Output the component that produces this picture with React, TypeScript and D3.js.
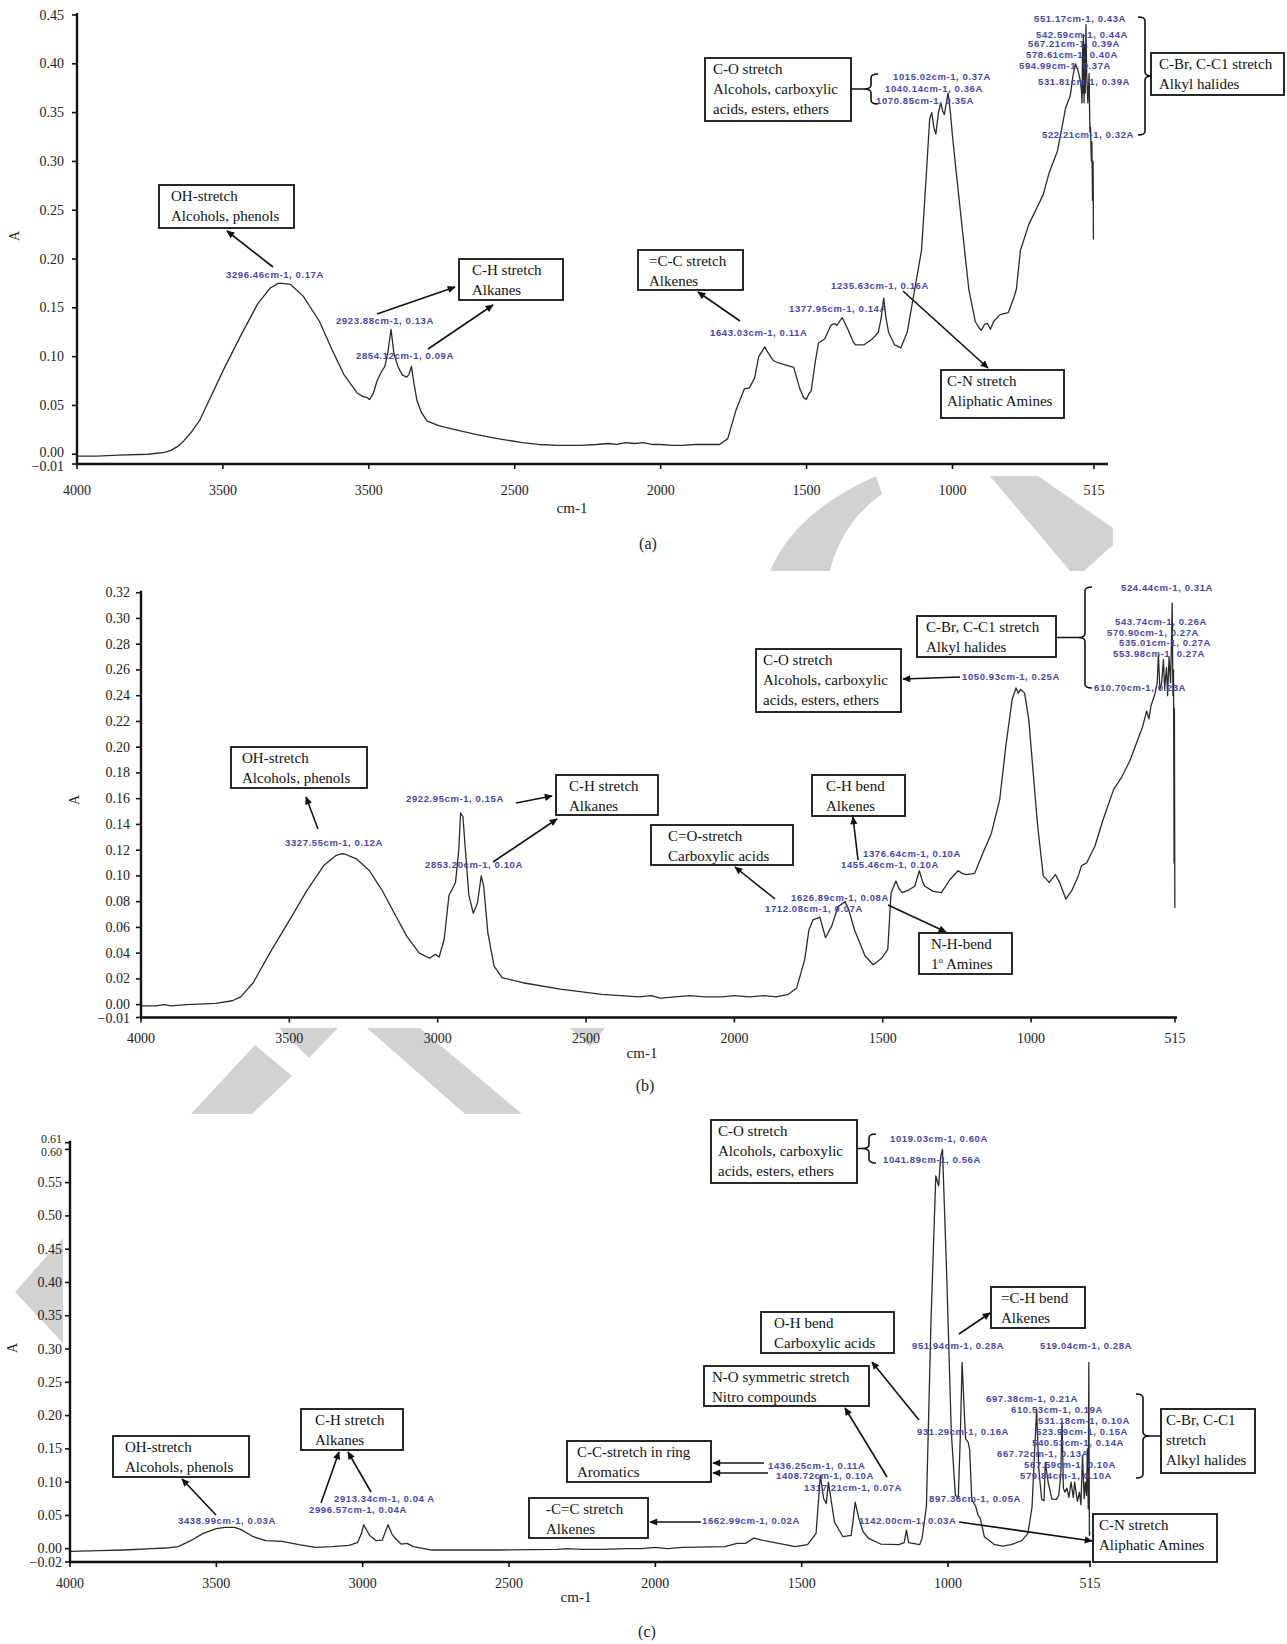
import React from "react";
import * as d3 from "d3";

const FIG_W = 1287;
const FIG_H = 1644;

// ---------- axis ticks ----------
const wavenumberTicks = [4000, 3500, 3000, 2500, 2000, 1500, 1000, 515];
const tickTextA = ["4000", "3500", "3500", "2500", "2000", "1500", "1000", "515"];
const tickTextBC = ["4000", "3500", "3000", "2500", "2000", "1500", "1000", "515"];

const absTicksA = [-0.01, 0, 0.05, 0.1, 0.15, 0.2, 0.25, 0.3, 0.35, 0.4, 0.45];
const absTicksB = [-0.01, 0, 0.02, 0.04, 0.06, 0.08, 0.1, 0.12, 0.14, 0.16, 0.18, 0.2, 0.22, 0.24, 0.26, 0.28, 0.3, 0.32];
const absTicksC = [-0.02, 0, 0.05, 0.1, 0.15, 0.2, 0.25, 0.3, 0.35, 0.4, 0.45, 0.5, 0.55, 0.6, 0.61];

// ---------- spectra: [wavenumber cm-1, absorbance A] ----------
const spectrumA: [number, number][] = [
  [4000, -0.002], [3930, -0.002], [3860, -0.001], [3757, 0.0], [3700, 0.002], [3678, 0.004], [3655, 0.008],
  [3636, 0.013], [3610, 0.022], [3579, 0.035], [3540, 0.06], [3494, 0.089], [3438, 0.122], [3381, 0.154],
  [3339, 0.17], [3310, 0.175], [3296.46, 0.175], [3268, 0.174], [3225, 0.162], [3169, 0.136], [3126, 0.107],
  [3084, 0.081], [3041, 0.063], [3020, 0.059], [3005, 0.058], [2998, 0.056], [2985, 0.062], [2972, 0.075],
  [2958, 0.084], [2945, 0.09], [2935, 0.104], [2923.88, 0.128], [2914, 0.103], [2899, 0.089], [2885, 0.081],
  [2870, 0.079], [2862, 0.082], [2854.12, 0.09], [2845, 0.072], [2835, 0.055], [2820, 0.043], [2800, 0.034],
  [2758, 0.029], [2701, 0.025], [2630, 0.02], [2559, 0.016], [2474, 0.012], [2418, 0.01], [2350, 0.009],
  [2276, 0.009], [2220, 0.01], [2180, 0.011], [2150, 0.01], [2120, 0.012], [2090, 0.011], [2060, 0.012],
  [2030, 0.01], [2000, 0.01], [1960, 0.009], [1925, 0.009], [1880, 0.01], [1798, 0.01], [1770, 0.016],
  [1742, 0.045], [1713, 0.067], [1696, 0.068], [1678, 0.078], [1664, 0.1], [1643.03, 0.11], [1636, 0.106],
  [1614, 0.096], [1600, 0.094], [1579, 0.092], [1544, 0.089], [1523, 0.067], [1510, 0.058], [1501, 0.056],
  [1492, 0.062], [1484, 0.065], [1470, 0.095], [1459, 0.114], [1438, 0.118], [1417, 0.132], [1405, 0.134],
  [1396, 0.132], [1377.95, 0.14], [1360, 0.129], [1340, 0.115], [1332, 0.112], [1304, 0.112], [1275, 0.118],
  [1254, 0.125], [1244, 0.14], [1235.63, 0.16], [1228, 0.14], [1219, 0.125], [1198, 0.112], [1177, 0.109],
  [1155, 0.125], [1127, 0.173], [1106, 0.209], [1092, 0.275], [1078, 0.344], [1070.85, 0.35], [1064, 0.335],
  [1057, 0.328], [1048, 0.35], [1040.14, 0.36], [1034, 0.352], [1028, 0.348], [1015.02, 0.37], [1007, 0.35],
  [1000, 0.326], [986, 0.286], [965, 0.227], [944, 0.169], [922, 0.136], [905, 0.128], [901, 0.127],
  [890, 0.133], [880, 0.134], [870, 0.128], [859, 0.136], [837, 0.143], [809, 0.145], [790, 0.16],
  [781, 0.169], [767, 0.209], [739, 0.235], [710, 0.253], [689, 0.266], [668, 0.289], [640, 0.311],
  [626, 0.333], [612, 0.355], [598, 0.366], [594.99, 0.37], [587, 0.388], [578.61, 0.4], [572, 0.395],
  [567.21, 0.39], [563, 0.384], [558, 0.373], [556, 0.36], [554, 0.42], [552.5, 0.37], [551.17, 0.43],
  [549, 0.36], [547, 0.42], [545, 0.37], [542.59, 0.44], [540, 0.39], [536, 0.36], [531.81, 0.39],
  [529, 0.33], [527, 0.335], [524, 0.3], [522.21, 0.32], [520, 0.26], [518, 0.3], [517, 0.22],
];

const spectrumB: [number, number][] = [
  [4000, -0.001], [3950, -0.001], [3920, 0.0], [3900, -0.001], [3846, 0.0], [3748, 0.001], [3692, 0.003],
  [3664, 0.006], [3622, 0.017], [3566, 0.04], [3496, 0.067], [3440, 0.089], [3384, 0.108], [3342, 0.116],
  [3327.55, 0.117], [3314, 0.117], [3272, 0.113], [3230, 0.104], [3188, 0.089], [3146, 0.071], [3104, 0.053],
  [3062, 0.04], [3027, 0.036], [3009, 0.039], [2995, 0.037], [2978, 0.051], [2962, 0.085], [2950, 0.09],
  [2940, 0.095], [2929, 0.12], [2922.95, 0.149], [2915, 0.146], [2905, 0.115], [2895, 0.085], [2880, 0.071],
  [2866, 0.079], [2853.2, 0.1], [2845, 0.092], [2831, 0.056], [2810, 0.03], [2783, 0.021], [2713, 0.017],
  [2587, 0.012], [2447, 0.008], [2321, 0.006], [2280, 0.007], [2250, 0.005], [2200, 0.006], [2150, 0.007],
  [2100, 0.006], [2042, 0.006], [2000, 0.007], [1950, 0.006], [1900, 0.007], [1860, 0.006], [1818, 0.008],
  [1790, 0.013], [1763, 0.035], [1749, 0.058], [1735, 0.066], [1721, 0.067], [1712.08, 0.068], [1700, 0.058],
  [1693, 0.052], [1672, 0.061], [1651, 0.076], [1626.89, 0.08], [1615, 0.074], [1595, 0.058], [1560, 0.038],
  [1532, 0.031], [1504, 0.036], [1483, 0.043], [1472, 0.087], [1455.46, 0.096], [1445, 0.09], [1434, 0.087],
  [1413, 0.089], [1392, 0.092], [1376.64, 0.104], [1365, 0.095], [1358, 0.092], [1330, 0.088], [1302, 0.087],
  [1274, 0.097], [1246, 0.104], [1232, 0.102], [1218, 0.101], [1190, 0.102], [1162, 0.118], [1134, 0.133],
  [1106, 0.159], [1085, 0.201], [1064, 0.237], [1050.93, 0.246], [1043, 0.242], [1036, 0.245], [1022, 0.242],
  [1008, 0.222], [994, 0.183], [978, 0.139], [959, 0.1], [939, 0.095], [918, 0.101], [904, 0.095],
  [883, 0.082], [862, 0.089], [841, 0.1], [830, 0.108], [813, 0.11], [785, 0.123], [757, 0.144],
  [722, 0.167], [694, 0.177], [666, 0.19], [645, 0.203], [624, 0.216], [610.7, 0.228], [603, 0.222],
  [596, 0.232], [582, 0.242], [575, 0.25], [570.9, 0.272], [566, 0.245], [560, 0.25], [553.98, 0.268],
  [550, 0.245], [543.74, 0.262], [540, 0.24], [535.01, 0.27], [530, 0.25], [527, 0.28], [524.44, 0.312],
  [522, 0.24], [520, 0.26], [518, 0.11], [517, 0.23], [515.5, 0.075],
];

const spectrumC: [number, number][] = [
  [4000, -0.004], [3900, -0.003], [3815, -0.002], [3720, 0.0], [3673, 0.001], [3630, 0.003], [3588, 0.012],
  [3545, 0.023], [3500, 0.03], [3470, 0.032], [3438.99, 0.032], [3417, 0.029], [3374, 0.018], [3331, 0.012],
  [3275, 0.011], [3218, 0.006], [3161, 0.002], [3104, 0.003], [3047, 0.005], [3018, 0.009], [3004, 0.023],
  [2996.57, 0.036], [2985, 0.027], [2976, 0.02], [2954, 0.012], [2933, 0.013], [2922, 0.026], [2913.34, 0.036],
  [2900, 0.022], [2890, 0.016], [2869, 0.007], [2848, 0.008], [2827, 0.003], [2763, -0.002], [2535, -0.002],
  [2336, -0.001], [2300, 0.0], [2250, -0.001], [2180, -0.001], [2100, 0.0], [2047, 0.0], [2000, 0.002],
  [1960, 0.0], [1905, 0.002], [1763, 0.003], [1721, 0.008], [1692, 0.008], [1662.99, 0.016], [1636, 0.013],
  [1579, 0.008], [1522, 0.003], [1480, 0.006], [1451, 0.023], [1436.25, 0.11], [1425, 0.075], [1416, 0.068],
  [1408.72, 0.1], [1395, 0.06], [1388, 0.04], [1359, 0.018], [1331, 0.02], [1325, 0.04], [1317.21, 0.07],
  [1305, 0.046], [1290, 0.025], [1270, 0.015], [1230, 0.007], [1168, 0.006], [1150, 0.009], [1142, 0.028],
  [1135, 0.009], [1097, 0.006], [1089, 0.015], [1074, 0.063], [1058, 0.346], [1041.89, 0.56], [1032, 0.545],
  [1025, 0.59], [1019.03, 0.6], [1004, 0.403], [989, 0.176], [975, 0.08], [965, 0.077], [958, 0.17],
  [951.94, 0.28], [944, 0.2], [940, 0.165], [931.29, 0.16], [926, 0.148], [919, 0.074], [905, 0.063],
  [897.36, 0.05], [890, 0.046], [876, 0.018], [841, 0.006], [813, 0.004], [784, 0.006], [748, 0.012],
  [727, 0.023], [713, 0.063], [697.38, 0.21], [690, 0.12], [680, 0.074], [672, 0.072], [667.72, 0.13],
  [658, 0.1], [645, 0.074], [630, 0.074], [622, 0.08], [615, 0.11], [610.53, 0.19], [606, 0.091],
  [601, 0.085], [594, 0.091], [587, 0.077], [579.84, 0.1], [572, 0.077], [567.59, 0.1], [558, 0.071],
  [551, 0.085], [546, 0.066], [540.53, 0.14], [535, 0.075], [531.18, 0.1], [527, 0.08], [523.99, 0.15],
  [521, 0.06], [519.04, 0.28], [517, 0.02], [515.5, 0.025],
];

// ---------- peak readouts ----------
const peakTextA = [
  "3296.46cm-1, 0.17A", "2923.88cm-1, 0.13A", "2854.12cm-1, 0.09A", "1643.03cm-1, 0.11A",
  "1377.95cm-1, 0.14A", "1235.63cm-1, 0.16A", "1015.02cm-1, 0.37A", "1040.14cm-1, 0.36A",
  "1070.85cm-1, 0.35A", "551.17cm-1, 0.43A", "542.59cm-1, 0.44A", "567.21cm-1, 0.39A",
  "578.61cm-1, 0.40A", "594.99cm-1, 0.37A", "531.81cm-1, 0.39A", "522.21cm-1, 0.32A",
];
const peakTextB = [
  "3327.55cm-1, 0.12A", "2922.95cm-1, 0.15A", "2853.20cm-1, 0.10A", "1712.08cm-1, 0.07A",
  "1626.89cm-1, 0.08A", "1455.46cm-1, 0.10A", "1376.64cm-1, 0.10A", "1050.93cm-1, 0.25A",
  "524.44cm-1, 0.31A", "543.74cm-1, 0.26A", "570.90cm-1, 0.27A", "535.01cm-1, 0.27A",
  "553.98cm-1, 0.27A", "610.70cm-1, 0.23A",
];
const peakTextC = [
  "3438.99cm-1, 0.03A", "2913.34cm-1, 0.04 A", "2996.57cm-1, 0.04A", "1662.99cm-1, 0.02A",
  "1436.25cm-1, 0.11A", "1408.72cm-1, 0.10A", "1317.21cm-1, 0.07A", "1142.00cm-1, 0.03A",
  "1019.03cm-1, 0.60A", "1041.89cm-1, 0.56A", "951.94cm-1, 0.28A", "519.04cm-1, 0.28A",
  "931.29cm-1, 0.16A", "897.36cm-1, 0.05A", "697.38cm-1, 0.21A", "610.53cm-1, 0.19A",
  "531.18cm-1, 0.10A", "523.99cm-1, 0.15A", "540.53cm-1, 0.14A", "667.72cm-1, 0.13A",
  "567.59cm-1, 0.10A", "579.84cm-1, 0.10A",
];

// ---------- layout (pixels) ----------
type Frame = {
  left: number; right: number; top: number; bottom: number; axisRight: number;
  yMin: number; yMax: number; labelGap: number; tickBaseline: number;
  nudge: Record<string, number>; small: string[];
};
const frameA: Frame = {
  left: 77, right: 1094, top: 15, bottom: 464, axisRight: 1108, yMin: -0.01, yMax: 0.45,
  labelGap: 13, tickBaseline: 495, nudge: { "-0.01": 2.5, "0": -1.5 }, small: [],
};
const frameB: Frame = {
  left: 141, right: 1175, top: 592.7, bottom: 1017.5, axisRight: 1177, yMin: -0.01, yMax: 0.32,
  labelGap: 11, tickBaseline: 1043, nudge: { "-0.01": 1, "0": -0.5 }, small: [],
};
const frameC: Frame = {
  left: 70, right: 1090, top: 1142.7, bottom: 1562, axisRight: 1091, yMin: -0.02, yMax: 0.61,
  labelGap: 8, tickBaseline: 1588, nudge: { "0.61": -3.5, "0.6": 2.5 }, small: ["0.61", "0.6"],
};

const peakPosA: [number, number][] = [
  [226, 278], [336, 324], [356, 359], [710, 336], [789, 312], [831, 289], [893, 80], [885, 92], [876, 104],
  [1034, 22], [1036, 38], [1028, 47], [1026, 58], [1019, 69], [1038, 85], [1042, 138],
];
const peakPosB: [number, number][] = [
  [285, 846], [406, 802], [425, 868], [765, 912], [791, 901], [841, 868], [863, 857], [962, 680],
  [1121, 591], [1115, 625], [1107, 636], [1119, 646], [1113, 657], [1094, 691],
];
const peakPosC: [number, number][] = [
  [178, 1524], [334, 1502], [309, 1513], [702, 1524], [768, 1469], [776, 1479], [804, 1491], [859, 1524],
  [890, 1142], [883, 1163], [912, 1349], [1040, 1349], [917, 1435], [929, 1502], [986, 1402], [1011, 1413],
  [1038, 1424], [1036, 1435], [1032, 1446], [997, 1457], [1024, 1468], [1020, 1479],
];

type Box = { x: number; y: number; w: number; h: number; px: number; lines: string[] };
const boxesA: Box[] = [
  { x: 159, y: 185, w: 135, h: 43, px: 12, lines: ["OH-stretch", "Alcohols, phenols"] },
  { x: 459, y: 259, w: 104, h: 41, px: 13, lines: ["C-H stretch", "Alkanes"] },
  { x: 638, y: 250, w: 105, h: 40, px: 11, lines: ["=C-C stretch", "Alkenes"] },
  { x: 705, y: 58, w: 146, h: 63, px: 8, lines: ["C-O stretch", "Alcohols, carboxylic", "acids, esters, ethers"] },
  { x: 941, y: 370, w: 123, h: 48, px: 6, lines: ["C-N stretch", "Aliphatic Amines"] },
  { x: 1151, y: 53, w: 133, h: 42, px: 8, lines: ["C-Br, C-C1 stretch", "Alkyl halides"] },
];
const boxesB: Box[] = [
  { x: 231, y: 747, w: 136, h: 41, px: 11, lines: ["OH-stretch", "Alcohols, phenols"] },
  { x: 556, y: 775, w: 102, h: 40, px: 13, lines: ["C-H stretch", "Alkanes"] },
  { x: 651, y: 825, w: 142, h: 40, px: 17, lines: ["C=O-stretch", "Carboxylic acids"] },
  { x: 812, y: 775, w: 93, h: 41, px: 14, lines: ["C-H bend", "Alkenes"] },
  { x: 919, y: 933, w: 93, h: 41, px: 12, lines: ["N-H-bend", "1\u00ba Amines"] },
  { x: 756, y: 649, w: 145, h: 63, px: 7, lines: ["C-O stretch", "Alcohols, carboxylic", "acids, esters, ethers"] },
  { x: 917, y: 616, w: 139, h: 41, px: 9, lines: ["C-Br, C-C1 stretch", "Alkyl halides"] },
];
const boxesC: Box[] = [
  { x: 113, y: 1436, w: 136, h: 41, px: 12, lines: ["OH-stretch", "Alcohols, phenols"] },
  { x: 301, y: 1409, w: 102, h: 41, px: 14, lines: ["C-H stretch", "Alkanes"] },
  { x: 529, y: 1498, w: 119, h: 40, px: 17, lines: ["-C=C stretch", "Alkenes"] },
  { x: 567, y: 1441, w: 144, h: 41, px: 10, lines: ["C-C-stretch in ring", "Aromatics"] },
  { x: 704, y: 1366, w: 165, h: 40, px: 8, lines: ["N-O symmetric stretch", "Nitro compounds"] },
  { x: 761, y: 1312, w: 133, h: 41, px: 13, lines: ["O-H bend", "Carboxylic acids"] },
  { x: 711, y: 1120, w: 146, h: 63, px: 7, lines: ["C-O stretch", "Alcohols, carboxylic", "acids, esters, ethers"] },
  { x: 991, y: 1287, w: 94, h: 41, px: 10, lines: ["=C-H bend", "Alkenes"] },
  { x: 1093, y: 1514, w: 124, h: 48, px: 6, lines: ["C-N stretch", "Aliphatic Amines"] },
  { x: 1161, y: 1409, w: 94, h: 64, px: 5, lines: ["C-Br, C-C1", "stretch", "Alkyl halides"] },
];

// arrows: [x1, y1, x2, y2], head at the second point
const arrowsA: number[][] = [
  [273, 267, 227, 231], [377, 314, 455, 287], [428, 349, 493, 305], [740, 321, 698, 292], [903, 291, 988, 368],
];
const arrowsB: number[][] = [
  [318, 829, 306, 797], [516, 803, 552, 796], [493, 862, 557, 819], [775, 899, 735, 867],
  [858, 860, 853, 817], [888, 905, 946, 932], [960, 677, 903, 679],
];
const arrowsC: number[][] = [
  [216, 1515, 182, 1479], [321, 1503, 339, 1452], [371, 1492, 348, 1452], [701, 1522, 650, 1522],
  [764, 1463, 713, 1463], [768, 1473, 713, 1473], [887, 1477, 845, 1408], [919, 1420, 872, 1362],
  [959, 1334, 990, 1313], [959, 1522, 1092, 1541],
];

// braces: spine x, top y, bottom y, serif direction (+1 right / -1 left), connector end x
type Brace = { x: number; y1: number; y2: number; dir: number; to: number };
const bracesA: Brace[] = [
  { x: 871, y1: 74, y2: 104, dir: 1, to: 851 },
  { x: 1145, y1: 17, y2: 135, dir: -1, to: 1151 },
];
const bracesB: Brace[] = [{ x: 1085, y1: 587, y2: 688, dir: 1, to: 1056 }];
const bracesC: Brace[] = [
  { x: 869, y1: 1134, y2: 1163, dir: 1, to: 857 },
  { x: 1143, y1: 1394, y2: 1478, dir: -1, to: 1161 },
];

// light grey backdrop shapes printed across the figure
const backdrop: string[] = [
  "M770,571 Q795,512 876,476 L882,494 Q842,522 830,571 Z",
  "M990,476 L1038,476 L1113,528 L1113,545 L1084,571 L1070,571 Z",
  "M279,1028 L338,1028 L309,1058 Z",
  "M255,1045 L292,1076 L252,1114 L191,1114 Z",
  "M367,1028 L420,1028 L522,1114 L465,1114 Z",
  "M570,1028 L605,1028 L590,1047 Z",
  "M15,1292 L63,1238 L63,1343 Z",
];

const SERIF = "'Liberation Serif', 'DejaVu Serif', serif";
const SANS = "'Liberation Sans', Arial, sans-serif";

function fmtAbs(v: number) {
  const s = Math.abs(v).toFixed(2);
  return v < 0 ? "\u2212" + s : s;
}

function bracePath(b: Brace) {
  const s = 7 * b.dir;
  const r = 4;
  const ym = (b.y1 + b.y2) / 2;
  return `M${b.x + s},${b.y1} Q${b.x},${b.y1} ${b.x},${b.y1 + r} L${b.x},${ym - r} Q${b.x},${ym} ${b.x - s},${ym} ` +
    `Q${b.x},${ym} ${b.x},${ym + r} L${b.x},${b.y2 - r} Q${b.x},${b.y2} ${b.x + s},${b.y2} ` +
    `M${b.x - s},${ym} L${b.to},${ym}`;
}

type PanelProps = {
  frame: Frame;
  data: [number, number][];
  yTicks: number[];
  xText: string[];
  peakText: string[];
  peakPos: [number, number][];
  boxes: Box[];
  arrows: number[][];
  braces: Brace[];
  yTitle: [number, number];
  xTitle: [number, number];
  caption: string;
  captionPos: [number, number];
};

function BoxLabel({ b }: { b: Box }) {
  return (
    <g>
      <rect x={b.x} y={b.y} width={b.w} height={b.h} fill="#fff" stroke="#111" strokeWidth={1.8} />
      {b.lines.map((ln, i) => {
        const ty = b.y + 16 + i * 19.8;
        if (ln.startsWith("1\u00ba")) {
          return (
            <text key={i} x={b.x + b.px} y={ty} fontFamily={SERIF} fontSize={15} fill="#111">
              1<tspan fontSize={9} dy={-6}>o</tspan>
              <tspan dy={6}> Amines</tspan>
            </text>
          );
        }
        return (
          <text key={i} x={b.x + b.px} y={ty} fontFamily={SERIF} fontSize={15} fill="#111">
            {ln}
          </text>
        );
      })}
    </g>
  );
}

function Panel(p: PanelProps) {
  const f = p.frame;
  const x = d3.scaleLinear().domain([4000, 515]).range([f.left, f.right]);
  const y = d3.scaleLinear().domain([f.yMin, f.yMax]).range([f.bottom, f.top]);
  const line = d3
    .line<[number, number]>()
    .x((d) => x(d[0]))
    .y((d) => y(d[1]));

  return (
    <g>
      {/* spectrum trace */}
      <path d={line(p.data) || ""} fill="none" stroke="#2b2b2b" strokeWidth={1.3} strokeLinejoin="round" />

      {/* axes */}
      <line x1={f.left} y1={f.top - 2} x2={f.left} y2={f.bottom} stroke="#111" strokeWidth={2.4} />
      <line x1={f.left - 1} y1={f.bottom} x2={f.axisRight} y2={f.bottom} stroke="#111" strokeWidth={2.4} />
      {p.yTicks.map((t) => {
        const key = String(t);
        const dy = f.nudge[key] || 0;
        const small = f.small.includes(key);
        return (
          <g key={"y" + t}>
            <line x1={f.left - 5} x2={f.left} y1={y(t)} y2={y(t)} stroke="#111" strokeWidth={1.6} />
            <text
              x={f.left - f.labelGap}
              y={y(t) + (small ? 4 : 4.5) + dy}
              textAnchor="end"
              fontFamily={SERIF}
              fontSize={small ? 12 : 14}
              fill="#222"
            >
              {fmtAbs(t)}
            </text>
          </g>
        );
      })}
      {wavenumberTicks.map((t, i) => (
        <g key={"x" + t}>
          <line x1={x(t)} x2={x(t)} y1={f.bottom} y2={f.bottom + 5} stroke="#111" strokeWidth={1.6} />
          <text x={x(t)} y={f.tickBaseline} textAnchor="middle" fontFamily={SERIF} fontSize={14} fill="#222">
            {p.xText[i]}
          </text>
        </g>
      ))}
      <text
        transform={`translate(${p.yTitle[0]},${p.yTitle[1]}) rotate(-90)`}
        textAnchor="middle"
        fontFamily={SERIF}
        fontSize={14}
        fill="#222"
      >
        A
      </text>
      <text x={p.xTitle[0]} y={p.xTitle[1]} textAnchor="middle" fontFamily={SERIF} fontSize={15} fill="#222">
        cm-1
      </text>
      <text x={p.captionPos[0]} y={p.captionPos[1]} textAnchor="middle" fontFamily={SERIF} fontSize={16} fill="#222">
        {p.caption}
      </text>

      {/* peak readouts */}
      {p.peakText.map((s, i) => (
        <text
          key={"p" + i}
          x={p.peakPos[i][0]}
          y={p.peakPos[i][1]}
          fontFamily={SANS}
          fontSize={9.5}
          fontWeight="bold"
          letterSpacing={0.6}
          fill="#4646a8"
        >
          {s}
        </text>
      ))}

      {/* braces grouping readouts */}
      {p.braces.map((b, i) => (
        <path key={"b" + i} d={bracePath(b)} fill="none" stroke="#111" strokeWidth={1.6} />
      ))}

      {/* arrows */}
      {p.arrows.map((a, i) => (
        <line
          key={"a" + i}
          x1={a[0]}
          y1={a[1]}
          x2={a[2]}
          y2={a[3]}
          stroke="#111"
          strokeWidth={1.6}
          markerEnd="url(#arrowHead)"
        />
      ))}

      {/* band assignment boxes */}
      {p.boxes.map((b, i) => (
        <BoxLabel key={"bx" + i} b={b} />
      ))}
    </g>
  );
}

export default function App() {
  return (
    <svg
      width={FIG_W}
      height={FIG_H}
      viewBox={`0 0 ${FIG_W} ${FIG_H}`}
      style={{ position: "absolute", left: 0, top: 0, background: "#fff" }}
    >
      <defs>
        <marker
          id="arrowHead"
          viewBox="0 0 10 10"
          refX={9}
          refY={5}
          markerWidth={9}
          markerHeight={8}
          markerUnits="userSpaceOnUse"
          orient="auto"
        >
          <path d="M0,0.5 L10,5 L0,9.5 Z" fill="#111" />
        </marker>
      </defs>
      <rect x={0} y={0} width={FIG_W} height={FIG_H} fill="#fff" />
      {backdrop.map((d, i) => (
        <path key={i} d={d} fill="#d2d2d2" />
      ))}

      <Panel
        frame={frameA}
        data={spectrumA}
        yTicks={absTicksA}
        xText={tickTextA}
        peakText={peakTextA}
        peakPos={peakPosA}
        boxes={boxesA}
        arrows={arrowsA}
        braces={bracesA}
        yTitle={[19, 236]}
        xTitle={[572, 513]}
        caption="(a)"
        captionPos={[648, 549]}
      />
      <Panel
        frame={frameB}
        data={spectrumB}
        yTicks={absTicksB}
        xText={tickTextBC}
        peakText={peakTextB}
        peakPos={peakPosB}
        boxes={boxesB}
        arrows={arrowsB}
        braces={bracesB}
        yTitle={[79, 800]}
        xTitle={[642, 1058]}
        caption="(b)"
        captionPos={[645, 1091]}
      />
      <Panel
        frame={frameC}
        data={spectrumC}
        yTicks={absTicksC}
        xText={tickTextBC}
        peakText={peakTextC}
        peakPos={peakPosC}
        boxes={boxesC}
        arrows={arrowsC}
        braces={bracesC}
        yTitle={[17, 1348]}
        xTitle={[576, 1602]}
        caption="(c)"
        captionPos={[647, 1637]}
      />
    </svg>
  );
}
